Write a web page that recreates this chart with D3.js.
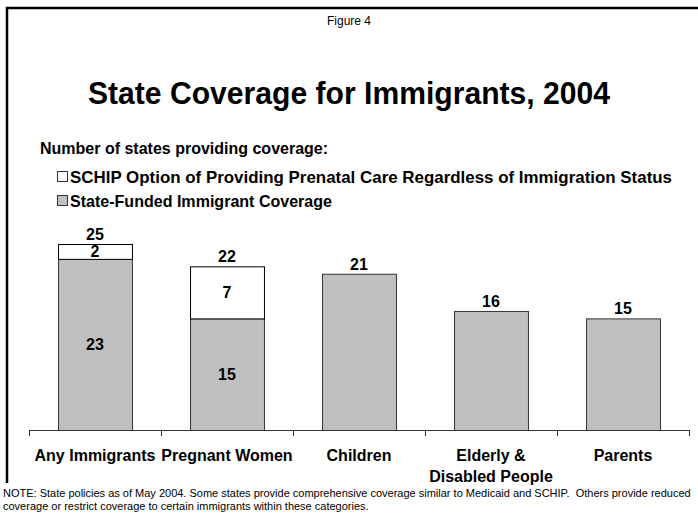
<!DOCTYPE html>
<html>
<head>
<meta charset="utf-8">
<script src="https://cdn.jsdelivr.net/npm/d3@7"></script>
<style>
  body { margin: 0; background: #fff; }
  text { font-family: "Liberation Sans", Arial, sans-serif; fill: #000; }
</style>
</head>
<body>
<svg id="chart" width="698" height="525"></svg>
<script>
const categories = ["Any Immigrants", "Pregnant Women", "Children", "Elderly &|Disabled People", "Parents"];
const stateFunded = [23, 15, 21, 16, 15];
const schipOption = [2, 7, 0, 0, 0];
const legendLabels = [
  "SCHIP Option of Providing Prenatal Care Regardless of Immigration Status",
  "State-Funded Immigrant Coverage"
];

const svg = d3.select("#chart");

// frame (top and left only)
svg.append("path")
  .attr("d", "M7,483V8H698")
  .attr("fill", "none")
  .attr("stroke", "#000")
  .attr("stroke-width", 2.5);

svg.append("text").attr("x", 349).attr("y", 25)
  .attr("text-anchor", "middle").attr("font-size", 12)
  .text("Figure 4");

svg.append("text").attr("x", 349).attr("y", 104)
  .attr("text-anchor", "middle").attr("font-size", 32).attr("font-weight", "bold")
  .attr("textLength", 522).attr("lengthAdjust", "spacingAndGlyphs")
  .text("State Coverage for Immigrants, 2004");

svg.append("text").attr("x", 40).attr("y", 154)
  .attr("font-size", 16).attr("font-weight", "bold")
  .text("Number of states providing coverage:");

// legend
const legendFill = ["#fff", "#c0c0c0"];
const legendWidth = [602, 262];
const lg = svg.append("g");
legendLabels.forEach((t, i) => {
  const y = 177 + i * 24;
  lg.append("rect").attr("x", 57.5).attr("y", y - 5.5).attr("width", 10).attr("height", 10)
    .attr("fill", legendFill[i]).attr("stroke", "#333").attr("stroke-width", 1);
  lg.append("text").attr("x", 70).attr("y", y + 6)
    .attr("font-size", 16.5).attr("font-weight", "bold")
    .attr("textLength", legendWidth[i]).attr("lengthAdjust", "spacingAndGlyphs")
    .text(t);
});

const x = d3.scaleBand().domain(categories).range([29, 689]).paddingInner(0.44).paddingOuter(0.22);
const y = d3.scaleLinear().domain([0, 25]).range([430, 244]);

const stack = categories.map((c, i) => ({
  cat: c, base: stateFunded[i], top: schipOption[i], total: stateFunded[i] + schipOption[i]
}));

const bars = svg.append("g");
bars.selectAll("rect.base").data(stack).enter().append("rect")
  .attr("x", d => x(d.cat) + 0.5)
  .attr("y", d => y(d.base) + 0.5)
  .attr("width", x.bandwidth())
  .attr("height", d => y(0) - y(d.base))
  .attr("fill", "#c0c0c0").attr("stroke", "#333").attr("stroke-width", 1);

bars.selectAll("rect.top").data(stack.filter(d => d.top > 0)).enter().append("rect")
  .attr("x", d => x(d.cat) + 0.5)
  .attr("y", d => y(d.total) + 0.5)
  .attr("width", x.bandwidth())
  .attr("height", d => y(d.base) - y(d.total))
  .attr("fill", "#fff").attr("stroke", "#000").attr("stroke-width", 1);

// labels inside stacked bars
const inner = svg.append("g").attr("font-size", 16).attr("font-weight", "bold").attr("text-anchor", "middle");
stack.filter(d => d.top > 0).forEach(d => {
  inner.append("text").attr("x", x(d.cat) + x.bandwidth() / 2)
    .attr("y", (y(0) + y(d.base)) / 2 + 6).text(d.base);
  inner.append("text").attr("x", x(d.cat) + x.bandwidth() / 2)
    .attr("y", (y(d.base) + y(d.total)) / 2 + 6).text(d.top);
});
// totals above bars
inner.selectAll("text.total").data(stack).enter().append("text")
  .attr("x", d => x(d.cat) + x.bandwidth() / 2)
  .attr("y", d => y(d.total) - 4)
  .text(d => d.total);

// axis
const axis = svg.append("g");
axis.append("line").attr("x1", 29).attr("x2", 689).attr("y1", 430.5).attr("y2", 430.5)
  .attr("stroke", "#333").attr("stroke-width", 1);
const step = x.step();
d3.range(categories.length + 1).forEach(i => {
  const tx = Math.round(29 + i * step) + 0.5;
  axis.append("line").attr("x1", tx).attr("x2", tx).attr("y1", 430).attr("y2", 436)
    .attr("stroke", "#333");
});

const cl = svg.append("g").attr("font-size", 16).attr("font-weight", "bold").attr("text-anchor", "middle");
categories.forEach(c => {
  const lines = c.split("|");
  lines.forEach((ln, j) => {
    cl.append("text").attr("x", x(c) + x.bandwidth() / 2).attr("y", 461 + j * 21).text(ln);
  });
});

svg.append("text").attr("x", 3).attr("y", 497).attr("font-size", 11)
  .style("white-space", "pre")
  .text("NOTE: State policies as of May 2004. Some states provide comprehensive coverage similar to Medicaid and SCHIP.  Others provide reduced");
svg.append("text").attr("x", 3).attr("y", 510).attr("font-size", 11)
  .text("coverage or restrict coverage to certain immigrants within these categories.");
</script>
</body>
</html>
